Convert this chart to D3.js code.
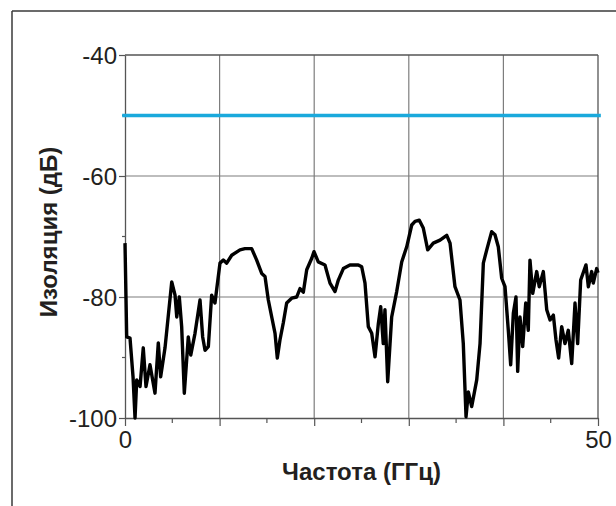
<!DOCTYPE html>
<html lang="ru">
  <head>
    <meta charset="utf-8">
    <title>isolation</title>
    <script type="text/javascript" src="https://cdn.jsdelivr.net/npm/d3@7"></script>
    <style>
    body{
      margin:0;
      background:#fff;
      font-family:"Liberation Sans",Arial,helvetica,sans-serif;
    }
    #chart{
      position:absolute;
      top:0px;
      left:0px;
    }
    .tickLabel{
      font-size:24px;
      fill:#231f20;
    }
    .axisTitle{
      font-size:24px;
      font-weight:bold;
      fill:#231f20;
    }
    </style>
  </head>
  <body>
    <div id="chart"></div>
    <script type="text/javascript">

      // частота, ГГц
      var freq = [0, 0.18, 0.53, 0.85, 1.06, 1.24, 1.59, 1.93, 2.22, 2.64, 3.17, 3.52, 3.77, 4.23, 4.94,
        5.29, 5.47, 5.74, 5.99, 6.27, 6.69, 6.95, 7.40, 7.93, 8.21, 8.46, 8.81, 9.16, 9.51, 10.04,
        10.39, 10.75, 11.28, 12.16, 12.68, 13.39, 13.92, 14.45, 14.80, 15.15, 15.51, 15.86, 16.10, 16.38,
        16.73, 17.09, 17.62, 18.15, 18.50, 18.85, 19.21, 19.74, 19.98, 20.43, 21.14, 21.67, 22.20, 22.55,
        23.08, 23.78, 24.66, 25.02, 25.37, 25.72, 26.08, 26.43, 26.78, 27.03, 27.30, 27.48, 27.77, 28.19,
        28.72, 29.25, 29.78, 30.31, 30.66, 31.11, 31.53, 32.00, 32.59, 33.30, 34.01, 34.36, 34.88, 35.41,
        35.76, 36.05, 36.29, 36.65, 37.18, 37.53, 37.88, 38.24, 38.76, 39.11, 39.46, 39.82, 40.17, 40.52,
        40.77, 41.05, 41.33, 41.51, 41.75, 42.04, 42.36, 42.63, 42.81, 43.10, 43.52, 43.79, 44.22, 44.58,
        44.93, 45.28, 45.56, 45.84, 46.16, 46.51, 46.86, 47.22, 47.57, 47.85, 48.17, 48.73, 48.98, 49.33,
        49.50, 49.86, 50]
      // изоляция, дБ
      var isolation = [-71.1, -86.6, -86.8, -93.2, -100, -93.7, -94.8, -88.4, -94.8, -91.2, -95.9, -87.6, -93.2, -88.4, -77.5,
        -79.7, -83.3, -80, -84.9, -95.9, -86.6, -89.6, -86, -80.5, -86.6, -88.8, -88.2, -79.7, -81, -74.4,
        -73.9, -74.4, -73.1, -72.2, -72, -72, -73.9, -76.1, -76.6, -80.5, -83.3, -86, -90.1, -87.1,
        -84.3, -81, -80.2, -80, -78.6, -79.2, -75.5, -73.6, -72.5, -74.2, -74.7, -77.7, -79.1, -77.2,
        -75.3, -74.7, -74.7, -75, -77.7, -84.9, -86, -89.9, -84.4, -81.6, -87.7, -82.1, -94, -83.3,
        -79.1, -74.2, -71.7, -68.1, -67.5, -67.3, -68.6, -72.2, -71.1, -70.6, -69.8, -71.1, -78.3, -80.5,
        -87.7, -99.8, -95.7, -98.1, -93.7, -87.7, -74.4, -72.2, -69.2, -69.7, -71.7, -76.9, -78.3, -85.5,
        -91.2, -82.7, -80, -92.3, -83.3, -88.2, -81, -85.5, -73.9, -79.4, -75.8, -78.3, -75.8, -82.1,
        -83.8, -83, -87.1, -90.1, -84.9, -87.7, -85.5, -91, -81, -87.7, -77.2, -74.7, -78.3, -75.8,
        -77.7, -75.3, -76]

      // граница (предел) -50 дБ
      var limitFreq = [-0.3, 50.3]
      var limitLevel = [-50, -50]

      var xTicks = [0, 50]
      var xGrid = [10, 20, 30, 40]
      var xMinor = [5, 15, 25, 35, 45]
      var yTicks = [-40, -60, -80, -100]
      var yGrid = [-60, -80]
      var yMinor = [-50, -70, -90]

      var w = 616
      var h = 506
      var margin = {left:125, top:55, right:18, bottom:88}
      var pw = w - margin.left - margin.right
      var ph = h - margin.top - margin.bottom

      var svg = d3.select("#chart").append("svg").attr("width", w).attr("height", h)

      // рамка рисунка
      svg.append("line").attr("x1", 12).attr("y1", 11).attr("x2", 12).attr("y2", h)
        .attr("stroke", "#3a3a3a").attr("stroke-width", 1.5)
      svg.append("line").attr("x1", 12).attr("y1", 11).attr("x2", w).attr("y2", 11)
        .attr("stroke", "#3a3a3a").attr("stroke-width", 1.5)

      var x = d3.scaleLinear().domain([0, 50]).range([0, pw])
      var y = d3.scaleLinear().domain([-100, -40]).range([ph, 0])

      var g = svg.append("g").attr("transform", "translate(" + margin.left + "," + margin.top + ")")

      // сетка
      g.selectAll(".vgrid").data(xGrid).enter().append("line")
        .attr("class", "vgrid")
        .attr("x1", function(d){ return x(d) }).attr("x2", function(d){ return x(d) })
        .attr("y1", 0).attr("y2", ph)
        .attr("stroke", "#7d7d7d").attr("stroke-width", 1.2)
      g.selectAll(".hgrid").data(yGrid).enter().append("line")
        .attr("class", "hgrid")
        .attr("x1", 0).attr("x2", pw)
        .attr("y1", function(d){ return y(d) }).attr("y2", function(d){ return y(d) })
        .attr("stroke", "#7d7d7d").attr("stroke-width", 1.2)

      // верх и правый край
      g.append("line").attr("x1", 0).attr("x2", pw).attr("y1", y(-40)).attr("y2", y(-40))
        .attr("stroke", "#555").attr("stroke-width", 1.3)
      g.append("line").attr("x1", x(50)).attr("x2", x(50)).attr("y1", 0).attr("y2", ph)
        .attr("stroke", "#555").attr("stroke-width", 1.3)

      // оси (обычный дефис, не минус)
      var yAxis = d3.axisLeft(y).tickValues(yTicks).tickSize(6).tickSizeOuter(0)
        .tickFormat(function(d){ return String(d) })
      var xAxis = d3.axisBottom(x).tickValues(xTicks.concat(xGrid)).tickSize(8).tickSizeOuter(0)
        .tickFormat(function(d){ return xTicks.indexOf(d) >= 0 ? String(d) : "" })

      var ya = g.append("g").call(yAxis)
      var xa = g.append("g").attr("transform", "translate(0," + ph + ")").call(xAxis)

      ya.select(".domain").attr("stroke", "#555").attr("stroke-width", 1.3)
      xa.select(".domain").attr("stroke", "#555").attr("stroke-width", 1.3)
      ya.selectAll(".tick line").attr("stroke", "#555").attr("stroke-width", 1.2)
      xa.selectAll(".tick line").attr("stroke", "#555").attr("stroke-width", 1.2)
      ya.selectAll(".tick text").attr("class", "tickLabel").attr("x", -8).attr("dy", "0.36em")
      xa.selectAll(".tick text").attr("class", "tickLabel").attr("y", 13).attr("dy", "0.71em")
      ya.attr("font-family", null).attr("font-size", null)
      xa.attr("font-family", null).attr("font-size", null)

      // мелкие штрихи
      g.selectAll(".ymin").data(yMinor).enter().append("line")
        .attr("x1", -3).attr("x2", 0)
        .attr("y1", function(d){ return y(d) }).attr("y2", function(d){ return y(d) })
        .attr("stroke", "#555").attr("stroke-width", 1.2)
      g.selectAll(".xmin").data(xMinor).enter().append("line")
        .attr("x1", function(d){ return x(d) }).attr("x2", function(d){ return x(d) })
        .attr("y1", ph).attr("y2", ph + 5)
        .attr("stroke", "#555").attr("stroke-width", 1.2)

      // линия предела
      var limitData = limitFreq.map(function(f, i){ return {f:f, v:limitLevel[i]} })
      g.append("path").datum(limitData)
        .attr("fill", "none").attr("stroke", "#1aa9dc").attr("stroke-width", 3.5)
        .attr("d", d3.line().x(function(d){ return x(d.f) }).y(function(d){ return y(d.v) }))

      // измеренная изоляция
      var data = freq.map(function(f, i){ return {f:f, v:isolation[i]} })
      g.append("path").datum(data)
        .attr("fill", "none").attr("stroke", "#000").attr("stroke-width", 3.4)
        .attr("stroke-linejoin", "round")
        .attr("d", d3.line().x(function(d){ return x(d.f) }).y(function(d){ return y(d.v) }))

      // подписи осей
      svg.append("text").attr("class", "axisTitle")
        .attr("text-anchor", "middle")
        .attr("transform", "translate(57,232) rotate(-90)")
        .text("Изоляция (дБ)")
      svg.append("text").attr("class", "axisTitle")
        .attr("text-anchor", "middle")
        .attr("x", margin.left + pw / 2).attr("y", 480)
        .text("Частота (ГГц)")

    </script>
  </body>
</html>
